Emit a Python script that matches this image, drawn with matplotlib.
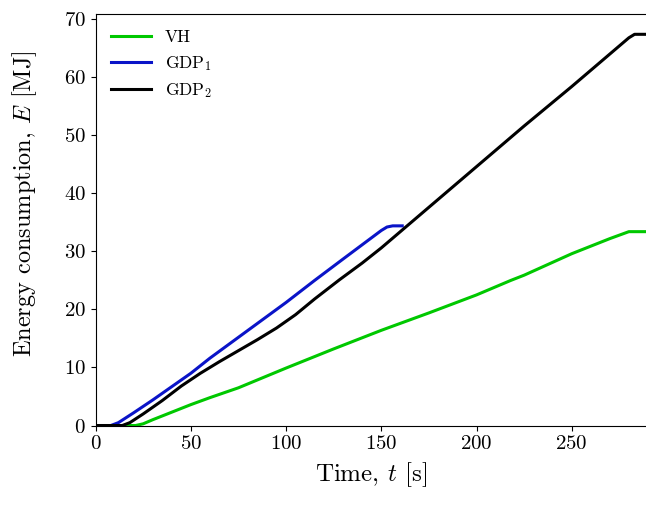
import matplotlib
matplotlib.use("Agg")
import matplotlib.pyplot as plt

plt.rcParams['font.family'] = 'cmr10'
plt.rcParams['mathtext.fontset'] = 'cm'
plt.rcParams['axes.formatter.use_mathtext'] = True

# VH
t_vh = [0, 21, 25, 30, 40, 50, 60, 75, 100, 125, 150, 175, 200, 218, 225, 250, 270, 280, 290]
e_vh = [0, 0, 0.3, 1.0, 2.3, 3.6, 4.8, 6.5, 9.9, 13.2, 16.4, 19.4, 22.5, 25.0, 25.9, 29.6, 32.2, 33.4, 33.4]

# GDP1
t_gdp1 = [0, 8, 12, 20, 30, 40, 50, 60, 75, 100, 115, 130, 150, 153, 156, 161]
e_gdp1 = [0, 0, 0.5, 2.2, 4.4, 6.7, 9.0, 11.6, 15.2, 21.2, 25.0, 28.7, 33.6, 34.2, 34.4, 34.4]

# GDP2
t_gdp2 = [0, 14, 18, 25, 35, 45, 55, 65, 75, 85, 95, 105, 115, 128, 140, 150, 175, 200, 225, 250, 275, 280, 283, 290]
e_gdp2 = [0, 0, 0.5, 2.0, 4.3, 6.8, 9.0, 11.0, 12.9, 14.8, 16.8, 19.1, 21.8, 25.1, 28.0, 30.6, 37.6, 44.6, 51.6, 58.4, 65.4, 66.8, 67.4, 67.4]

fig = plt.figure(figsize=(6.46, 5.09), dpi=100)
ax = fig.add_axes([0.148, 0.164, 0.852, 0.8085])

ax.plot(t_vh, e_vh, color='#00c800', lw=2.2, label='VH')
ax.plot(t_gdp1, e_gdp1, color='#0a14c8', lw=2.2, label=r'GDP$_1$')
ax.plot(t_gdp2, e_gdp2, color='black', lw=2.2, label=r'GDP$_2$')

ax.set_xlim(0, 289)
ax.set_ylim(0, 70.9)
ax.set_xticks([0, 50, 100, 150, 200, 250])
ax.set_yticks([0, 10, 20, 30, 40, 50, 60, 70])
ax.spines['right'].set_visible(False)
ax.tick_params(labelsize=15)

ax.set_xlabel(r'Time, $t$ [s]', fontsize=18, labelpad=5)
ax.set_ylabel(r'Energy consumption, $E$ [MJ]', fontsize=17.5, labelpad=18)
ax.yaxis.label.set_y(0.54)

ax.legend(loc='upper left', frameon=False, fontsize=12.5, handlelength=2.3)

fig.savefig('out.png', dpi=100)
